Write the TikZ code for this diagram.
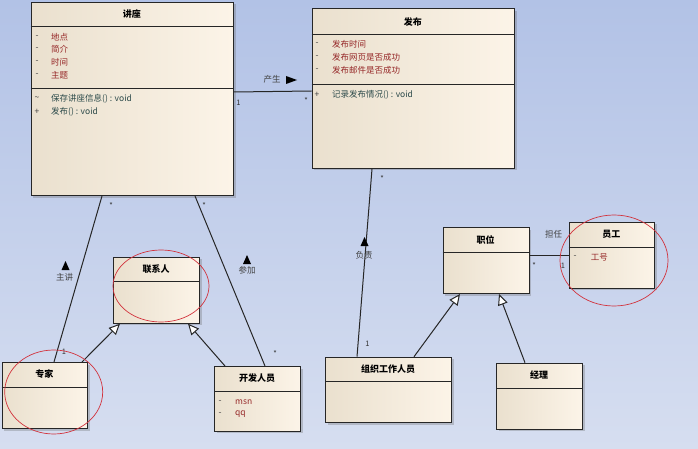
\documentclass[tikz,border=0pt]{standalone}
\usepackage{fontspec}
\setmainfont{Noto Sans CJK SC}
\usetikzlibrary{arrows.meta,shadows,calc}
\definecolor{bgtop}{RGB}{178,194,230}
\definecolor{bgbot}{RGB}{214,222,240}
\definecolor{boxl}{RGB}{234,224,206}
\definecolor{boxr}{RGB}{252,244,232}
\definecolor{attr}{RGB}{150,40,40}
\definecolor{meth}{RGB}{45,75,75}
\definecolor{circ}{RGB}{210,50,60}
\tikzset{
 classbox/.style={rectangle, draw=black!85, line width=1pt, left color=boxl, right color=boxr,
   drop shadow={shadow xshift=2pt,shadow yshift=-2pt,opacity=0.3,fill=black!60}, inner sep=0pt, anchor=north west},
 ctitle/.style={font=\fontsize{9}{10}\selectfont\bfseries, inner sep=0pt},
 attrtxt/.style={font=\fontsize{8.5}{9}\selectfont, text=attr, inner sep=0pt, anchor=west},
 methtxt/.style={font=\fontsize{8.5}{9}\selectfont, text=meth, inner sep=0pt, anchor=west},
 vistxt/.style={font=\fontsize{8.5}{9}\selectfont, text=black!75, inner sep=0pt},
 sepline/.style={draw=black!85, line width=1pt},
 assoc/.style={draw=black!85, line width=1pt},
 gen/.style={draw=black!85, line width=1pt, -{Triangle[length=11pt,width=10pt,fill=white]}},
 mult/.style={font=\fontsize{7.5}{8}\selectfont, text=black!80, inner sep=0pt},
 lbl/.style={font=\fontsize{8.5}{9}\selectfont, text=black!75, inner sep=0pt},
 redring/.style={draw=circ, line width=0.7pt},
}
\begin{document}
\begin{tikzpicture}[x=1pt,y=-1pt]
\useasboundingbox (0,0) rectangle (698,449);
\shade[top color=bgtop,bottom color=bgbot] (0,0) rectangle (698,449);

% ---------- class boxes ----------
\node[classbox, minimum width=202.3pt, minimum height=193.3pt] (lec) at (30.7,1.7) {};
\draw[sepline] (30.7,27) -- (233,27);
\draw[sepline] (30.7,89) -- (233,89);
\node[ctitle] (lecT) at (131.85,14.3) {讲座};
\node[vistxt] (lecv1) at (37,37) {-};
\node[attrtxt] (leca1) at (51,37) {地点};
\node[vistxt] (lecv2) at (37,49.5) {-};
\node[attrtxt] (leca2) at (51,49.5) {简介};
\node[vistxt] (lecv3) at (37,62) {-};
\node[attrtxt] (leca3) at (51,62) {时间};
\node[vistxt] (lecv4) at (37,75) {-};
\node[attrtxt] (leca4) at (51,75) {主题};
\node[vistxt] (lecv5) at (37,99) {\textasciitilde};
\node[methtxt] (lecm1) at (51,99) {保存讲座信息() : void};
\node[vistxt] (lecv6) at (37,112) {+};
\node[methtxt] (lecm2) at (51,112) {发布() : void};

\node[classbox, minimum width=202.3pt, minimum height=159.7pt] (pub) at (311.7,8.3) {};
\draw[sepline] (311.7,35) -- (514,35);
\draw[sepline] (311.7,85) -- (514,85);
\node[ctitle] (pubT) at (412.85,21.7) {发布};
\node[vistxt] (pubv1) at (317,44) {-};
\node[attrtxt] (puba1) at (332,44) {发布时间};
\node[vistxt] (pubv2) at (317,57) {-};
\node[attrtxt] (puba2) at (332,57) {发布网页是否成功};
\node[vistxt] (pubv3) at (317,70) {-};
\node[attrtxt] (puba3) at (332,70) {发布邮件是否成功};
\node[vistxt] (pubv4) at (317,95) {+};
\node[methtxt] (pubm1) at (332,95) {记录发布情况() : void};

\node[classbox, minimum width=86pt, minimum height=66pt] (con) at (113,256.7) {};
\draw[sepline] (113,281.7) -- (199,281.7);
\node[ctitle] (conT) at (156,269.2) {联系人};

\node[classbox, minimum width=85.3pt, minimum height=66pt] (exp) at (1.7,362) {};
\draw[sepline] (1.7,387) -- (87,387);
\node[ctitle] (expT) at (44.35,374.5) {专家};

\node[classbox, minimum width=86pt, minimum height=64.7pt] (dev) at (214,366) {};
\draw[sepline] (214,391) -- (300,391);
\node[ctitle] (devT) at (257,378.5) {开发人员};
\node[vistxt] (devv1) at (220,402) {-};
\node[attrtxt] (deva1) at (235,402) {msn};
\node[vistxt] (devv2) at (220,414) {-};
\node[attrtxt] (deva2) at (235,414) {qq};

\node[classbox, minimum width=86pt, minimum height=66pt] (pos) at (442.7,227) {};
\draw[sepline] (442.7,252.7) -- (528.7,252.7);
\node[ctitle] (posT) at (485.7,239.8) {职位};

\node[classbox, minimum width=85.3pt, minimum height=66pt] (emp) at (568.7,221.7) {};
\draw[sepline] (568.7,247) -- (654,247);
\node[ctitle] (empT) at (611.35,234.3) {员工};
\node[vistxt] (empv1) at (575,257) {-};
\node[attrtxt] (empa1) at (590.7,257) {工号};

\node[classbox, minimum width=126pt, minimum height=65.3pt] (org) at (325,356.7) {};
\draw[sepline] (325,381.7) -- (451,381.7);
\node[ctitle] (orgT) at (388,369.2) {组织工作人员};

\node[classbox, minimum width=86pt, minimum height=66pt] (mgr) at (496,362.7) {};
\draw[sepline] (496,388) -- (582,388);
\node[ctitle] (mgrT) at (539,375.3) {经理};

% ---------- connectors ----------
\draw[assoc] ($(lec.north east)+(0,90.3)$) -- ($(pub.north west)+(0,82.7)$);
\draw[assoc] ($(lec.south west)+(71.3,0)$) -- ($(exp.north west)+(52.3,0)$);
\draw[assoc] ($(lec.south west)+(164.3,0)$) -- ($(dev.north west)+(51,0)$);
\draw[gen] ($(exp.north west)+(80.3,0)$) -- ($(con.south west)+(7,0)$);
\draw[gen] ($(dev.north west)+(11,0)$) -- ($(con.south west)+(75,0)$);
\draw[assoc] ($(pub.south west)+(60.3,0)$) -- ($(org.north west)+(32,0)$);
\draw[gen] ($(org.north west)+(89,0)$) -- ($(pos.south west)+(17.3,0)$);
\draw[gen] ($(mgr.north west)+(29,0)$) -- ($(pos.south west)+(56.3,0)$);
\draw[assoc] ($(pos.north east)+(0,28)$) -- ($(emp.north west)+(0,33.3)$);

% ---------- labels & multiplicities ----------
\node[lbl] (l1) at (272,79.5) {产生};
\fill[black] (286,76) -- (297,80) -- (286,84) -- cycle;
\node[mult] (m1) at (238.5,103) {1};
\node[mult] (m2) at (306,101) {*};

\fill[black] (61.5,270) -- (65.5,261) -- (69.5,270) -- cycle;
\node[lbl] (l2) at (64.5,277.5) {主讲};
\node[mult] (m3) at (111,206) {*};
\node[mult] (m4) at (64,351.5) {1};

\fill[black] (243,264) -- (247,255) -- (251,264) -- cycle;
\node[lbl] (l3) at (247,270.5) {参加};
\node[mult] (m5) at (204,206) {*};
\node[mult] (m6) at (275,354) {*};

\fill[black] (360.5,246) -- (364.5,237) -- (368.5,246) -- cycle;
\node[lbl] (l4) at (364,255.5) {负责};
\node[mult] (m7) at (382,178.5) {*};
\node[mult] (m8) at (367.5,344) {1};

\node[lbl] (l5) at (553.5,234.5) {担任};
\node[mult] (m9) at (534,266) {*};
\node[mult] (m10) at (563,265.5) {1};

% ---------- red rings ----------
\draw[redring] (161,286) ellipse (48 and 36);
\draw[redring] (53.7,392) ellipse (49 and 42);
\draw[redring] (614,260.5) ellipse (54 and 45.5);
\end{tikzpicture}
\end{document}
